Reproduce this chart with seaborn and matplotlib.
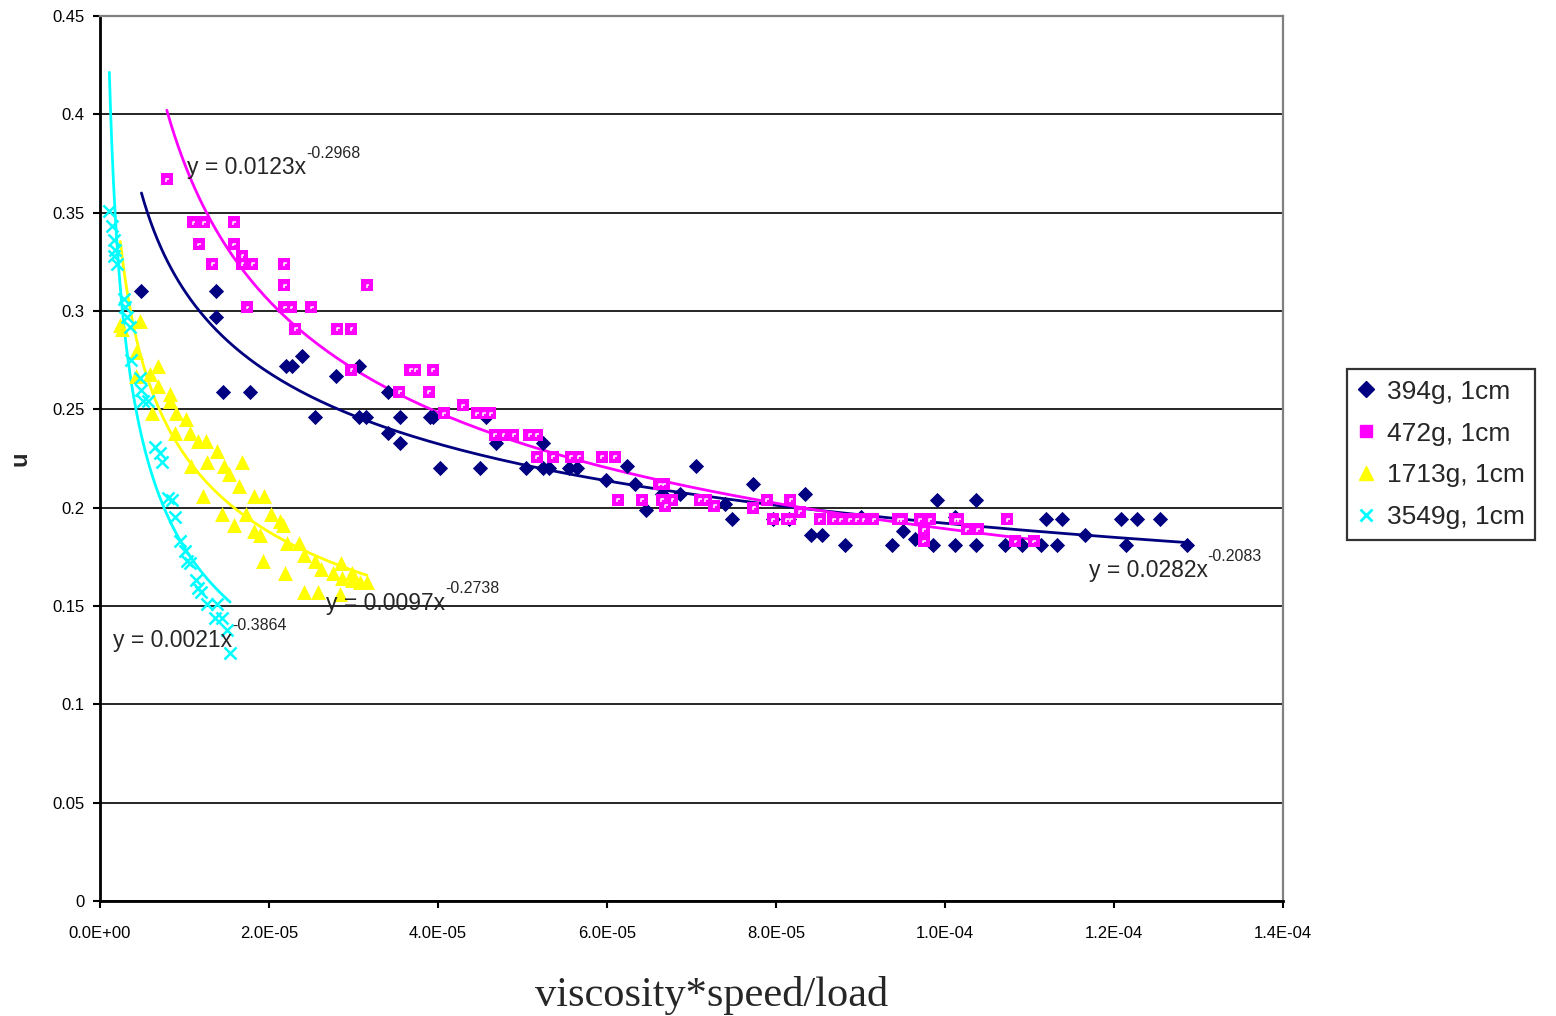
import numpy as np
import pandas as pd
import seaborn as sns
import matplotlib.pyplot as plt
from matplotlib.lines import Line2D
from matplotlib.ticker import FuncFormatter, MultipleLocator

# x values are given in units of 1e-5 (viscosity*speed/load)
X_UNIT = 1e-5

# 394g, 1cm
x_394 = [0.49, 1.37, 1.37, 2.39, 2.20, 2.27, 3.07, 2.79, 1.45, 1.78, 3.41, 2.54, 3.07, 3.15,
         3.55, 3.90, 3.94, 3.41, 3.55, 4.02, 4.50, 4.57, 4.69, 5.24, 5.04, 5.24, 5.31, 5.55,
         5.64, 5.99, 6.24, 6.33, 6.46, 6.65, 6.86, 7.05, 7.48, 7.73, 7.40, 7.97, 8.16, 8.34,
         8.41, 8.55, 8.82, 9.01, 9.37, 9.50, 9.64, 9.86, 9.90, 10.12, 10.12, 10.37, 10.37,
         10.71, 10.91, 11.14, 11.33, 11.20, 11.38, 11.66, 12.08, 12.27, 12.54, 12.14, 12.86]
u_394 = [0.310, 0.310, 0.297, 0.277, 0.272, 0.272, 0.272, 0.267, 0.259, 0.259, 0.259, 0.246,
         0.246, 0.246, 0.246, 0.246, 0.246, 0.238, 0.233, 0.220, 0.220, 0.246, 0.233, 0.233,
         0.220, 0.220, 0.220, 0.220, 0.220, 0.214, 0.221, 0.212, 0.199, 0.207, 0.207, 0.221,
         0.194, 0.212, 0.202, 0.194, 0.194, 0.207, 0.186, 0.186, 0.181, 0.195, 0.181, 0.188,
         0.184, 0.181, 0.204, 0.181, 0.195, 0.204, 0.181, 0.181, 0.181, 0.181, 0.181, 0.194,
         0.194, 0.186, 0.194, 0.194, 0.194, 0.181, 0.181]

# 472g, 1cm
x_472 = [0.79, 1.10, 1.23, 1.58, 1.17, 1.58, 1.68, 1.33, 1.68, 1.80, 2.18, 2.18, 3.16, 1.74,
         2.18, 2.26, 2.50, 2.31, 2.81, 2.97, 2.97, 3.67, 3.73, 3.94, 3.54, 3.89, 4.29, 4.07,
         4.46, 4.54, 4.62, 4.67, 4.77, 4.89, 5.08, 5.17, 5.17, 5.36, 5.57, 5.66, 5.94, 6.09,
         6.62, 6.67, 6.13, 6.41, 6.65, 6.77, 6.69, 7.10, 7.17, 7.27, 7.73, 7.89, 8.17, 8.28,
         7.96, 8.13, 8.17, 8.52, 8.68, 8.76, 8.87, 8.95, 9.03, 9.15, 9.45, 9.49, 9.70, 9.82,
         9.75, 9.75, 10.12, 10.16, 10.26, 10.39, 10.74, 10.83, 11.05]
u_472 = [0.367, 0.345, 0.345, 0.345, 0.334, 0.334, 0.328, 0.324, 0.324, 0.324, 0.324, 0.313,
         0.313, 0.302, 0.302, 0.302, 0.302, 0.291, 0.291, 0.291, 0.270, 0.270, 0.270, 0.270,
         0.259, 0.259, 0.252, 0.248, 0.248, 0.248, 0.248, 0.237, 0.237, 0.237, 0.237, 0.237,
         0.226, 0.226, 0.226, 0.226, 0.226, 0.226, 0.212, 0.212, 0.204, 0.204, 0.204, 0.204,
         0.201, 0.204, 0.204, 0.201, 0.200, 0.204, 0.204, 0.198, 0.194, 0.194, 0.194, 0.194,
         0.194, 0.194, 0.194, 0.194, 0.194, 0.194, 0.194, 0.194, 0.194, 0.194, 0.189, 0.183,
         0.194, 0.194, 0.189, 0.189, 0.194, 0.183, 0.183]

# 1713g, 1cm
x_1713 = [0.24, 0.26, 0.47, 0.43, 0.43, 0.59, 0.69, 0.69, 0.83, 0.83, 0.61, 0.90, 1.02, 0.89,
          1.07, 1.16, 1.25, 1.39, 1.26, 1.47, 1.53, 1.68, 1.08, 1.64, 1.22, 1.82, 1.94, 1.44,
          1.58, 1.73, 1.82, 1.89, 2.02, 1.93, 2.13, 2.17, 2.21, 2.35, 2.41, 2.54, 2.62, 2.76,
          2.85, 2.86, 2.98, 2.98, 3.08, 3.16, 2.19, 2.41, 2.58, 2.84]
u_1713 = [0.293, 0.291, 0.295, 0.279, 0.267, 0.268, 0.272, 0.262, 0.258, 0.254, 0.248, 0.248,
          0.245, 0.238, 0.238, 0.234, 0.234, 0.229, 0.223, 0.221, 0.217, 0.223, 0.221, 0.211,
          0.206, 0.206, 0.206, 0.197, 0.191, 0.197, 0.188, 0.186, 0.197, 0.173, 0.193, 0.191,
          0.182, 0.182, 0.176, 0.173, 0.169, 0.167, 0.172, 0.164, 0.167, 0.163, 0.162, 0.162,
          0.167, 0.157, 0.157, 0.156]

# 3549g, 1cm
x_3549 = [0.11, 0.14, 0.16, 0.18, 0.16, 0.20, 0.28, 0.30, 0.32, 0.36, 0.37, 0.47, 0.49, 0.51,
          0.57, 0.65, 0.71, 0.73, 0.81, 0.85, 0.89, 0.95, 1.01, 1.03, 1.07, 1.14, 1.16, 1.20,
          1.26, 1.38, 1.36, 1.44, 1.50, 1.54]
u_3549 = [0.351, 0.343, 0.336, 0.331, 0.328, 0.324, 0.306, 0.302, 0.297, 0.292, 0.275, 0.266,
          0.260, 0.254, 0.254, 0.231, 0.228, 0.223, 0.205, 0.204, 0.195, 0.183, 0.178, 0.173,
          0.172, 0.163, 0.159, 0.157, 0.151, 0.151, 0.144, 0.144, 0.138, 0.126]

labels = ['394g, 1cm', '472g, 1cm', '1713g, 1cm', '3549g, 1cm']
colors = ['#000080', '#FF00FF', '#FFFF00', '#00FFFF']
# power trendlines shown on the chart: y = a * x^b
trend_a = [0.0282, 0.0123, 0.0097, 0.0021]
trend_b = [-0.2083, -0.2968, -0.2738, -0.3864]
trend_text = ['y = 0.0282x', 'y = 0.0123x', 'y = 0.0097x', 'y = 0.0021x']
trend_sup = ['-0.2083', '-0.2968', '-0.2738', '-0.3864']

series_x = [x_394, x_472, x_1713, x_3549]
series_u = [u_394, u_472, u_1713, u_3549]

sns.set_theme(style='ticks')
plt.rcParams['font.family'] = ['Liberation Sans', 'DejaVu Sans']

fig = plt.figure(figsize=(15.56, 10.16), dpi=100)
ax = fig.add_axes([0.0643, 0.1132, 0.7602, 0.8711])

# trendlines
for xs, a, b, c in zip(series_x, trend_a, trend_b, colors):
    xv = np.geomspace(min(xs), max(xs), 200) * X_UNIT
    sns.lineplot(x=xv, y=a * xv ** b, color=c, lw=2, ax=ax, sort=False,
                 legend=False, zorder=3)

# scatter points
marker_kw = [
    dict(marker='D', s=60, linewidth=0),
    dict(marker='s', s=85, linewidth=0),
    dict(marker='^', s=115, linewidth=0),
    dict(marker='x', s=75, linewidth=1.8),
]
for xs, us, c, kw in zip(series_x, series_u, colors, marker_kw):
    df = pd.DataFrame({'x': np.array(xs) * X_UNIT, 'u': us})
    sns.scatterplot(data=df, x='x', y='u', color=c, ax=ax, legend=False, zorder=4, **kw)

# the little white corner inside Excel's magenta square markers
corner = [(-0.2, -1.0), (-0.2, 0.2), (1.0, 0.2)]
df472 = pd.DataFrame({'x': np.array(x_472) * X_UNIT, 'u': u_472})
ax.scatter(df472['x'], df472['u'], marker=corner, s=12, facecolors='none',
           edgecolors='white', linewidths=1.1, zorder=5)

# equation labels
eq_pos = [(11.70, 0.1678), (1.03, 0.3727), (2.67, 0.1515), (0.154, 0.1327)]
for (px, py), t, sup in zip(eq_pos, trend_text, trend_sup):
    txt = ax.text(px * X_UNIT, py, t, fontsize=16.5, ha='left', va='center', zorder=6)
    ax.annotate(sup, xy=(1.0, 1.12), xycoords=txt, fontsize=11.5, ha='left',
                va='center', zorder=6)

ax.set_xlim(0, 1.4e-4)
ax.set_ylim(0, 0.45)
ax.xaxis.set_major_locator(MultipleLocator(2e-5))
ax.yaxis.set_major_locator(MultipleLocator(0.05))
ax.xaxis.set_major_formatter(FuncFormatter(lambda v, p: f'{v:.1E}'))
ax.yaxis.set_major_formatter(FuncFormatter(lambda v, p: f'{v:g}'))
ax.tick_params(axis='both', direction='out', length=5, width=1.5, colors='black',
               labelsize=12)
ax.tick_params(axis='x', pad=13)
ax.tick_params(axis='y', pad=6)

ax.yaxis.grid(True, color='black', lw=1.2, zorder=1)
ax.xaxis.grid(False)
ax.set_axisbelow(True)
for side in ['left', 'bottom']:
    ax.spines[side].set_color('black')
    ax.spines[side].set_linewidth(2)
for side in ['top', 'right']:
    ax.spines[side].set_visible(True)
    ax.spines[side].set_color('#808080')
    ax.spines[side].set_linewidth(1.6)

ax.set_xlabel('viscosity*speed/load', family=['Liberation Serif', 'DejaVu Serif'],
              fontsize=30.5)
ax.xaxis.set_label_coords(0.517, -0.085)
ax.set_ylabel('u', fontsize=17, fontweight='bold')
ax.yaxis.set_label_coords(-0.058, 0.5)

handles = [
    Line2D([], [], ls='none', marker='D', color=colors[0], markersize=8),
    Line2D([], [], ls='none', marker='s', color=colors[1], markersize=8),
    Line2D([], [], ls='none', marker='^', color=colors[2], markersize=10),
    Line2D([], [], ls='none', marker='x', color=colors[3], markersize=8, mew=2),
]
leg = fig.legend(handles, labels, loc='upper left', bbox_to_anchor=(0.8657, 0.6368),
                 fontsize=19, frameon=True, fancybox=False, edgecolor='black',
                 borderpad=0.4, labelspacing=0.68, handlelength=0.6,
                 handletextpad=0.5, borderaxespad=0)
leg.get_frame().set_linewidth(1.6)

fig.savefig('out.png', dpi=100)
